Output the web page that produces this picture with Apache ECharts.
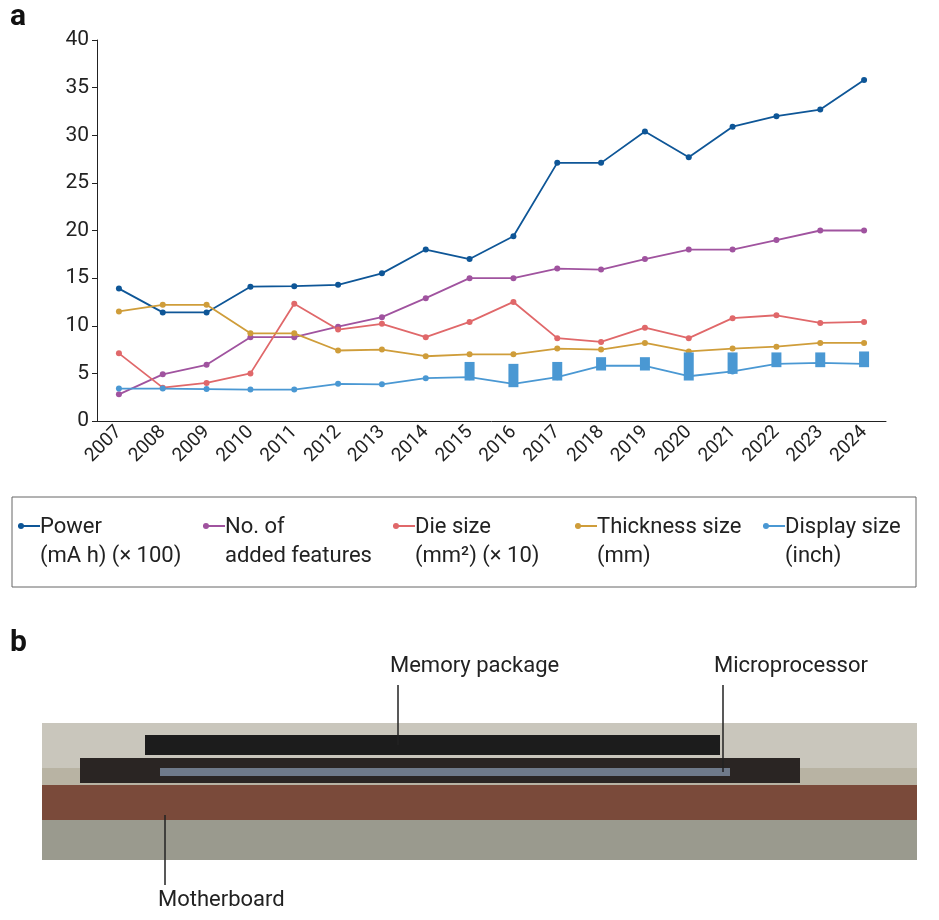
<!DOCTYPE html>
<html>
<head>
<meta charset="utf-8">
<script src="https://cdn.jsdelivr.net/npm/echarts@6/dist/echarts.min.js"></script>
<style>html,body{margin:0;padding:0;background:#fff}#main{width:939px;height:920px}</style>
</head>
<body>
<div id="main"></div>
<script>
var years = ['2007','2008','2009','2010','2011','2012','2013','2014','2015','2016','2017','2018','2019','2020','2021','2022','2023','2024'];
var power = [13.9,11.4,11.4,14.1,14.15,14.3,15.5,18,17,19.4,27.1,27.1,30.4,27.7,30.9,32,32.7,35.8];
var features = [2.8,4.9,5.9,8.8,8.8,9.9,10.9,12.9,15,15,16,15.9,17,18,18,19,20,20];
var dieSize = [7.1,3.5,4.0,5.0,12.3,9.6,10.2,8.8,10.4,12.5,8.7,8.3,9.8,8.7,10.8,11.1,10.3,10.4];
var thickness = [11.5,12.2,12.2,9.2,9.2,7.4,7.5,6.8,7.0,7.0,7.6,7.5,8.2,7.3,7.6,7.8,8.2,8.2];
var display = [3.4,3.4,3.35,3.3,3.3,3.9,3.85,4.5,4.6,3.9,4.6,5.8,5.8,4.7,5.2,6.0,6.1,6.0];
// display size ranges [yearIndex, low, high]
var displayRange = [[8,4.25,6.2],[9,3.55,6.0],[10,4.25,6.2],[11,5.3,6.7],[12,5.3,6.7],[13,4.25,7.2],[14,4.95,7.2],[15,5.65,7.2],[16,5.65,7.2],[17,5.65,7.3]];

var cols = ['#0e5697','#a0539f','#e0686a','#cf9d3a','#4a98d3'];
var names = ['Power\n(mA h) (\u00d7 100)','No. of\nadded features','Die size\n(mm\u00b2) (\u00d7 10)','Thickness size\n(mm)','Display size\n(inch)'];
var legendX = [18, 203, 393, 575, 763];
var font = 'Roboto, "Noto Sans", sans-serif';

function line(data, c) {
  return {type:'line', data:data, symbol:'circle', symbolSize:6,
    lineStyle:{color:c, width:1.8}, itemStyle:{color:c}, z:3};
}

var graphic = [
  {type:'text', left:10, top:2, style:{text:'a', font:'bold 30px ' + font, fill:'#111'}},
  {type:'rect', shape:{x:12, y:497, width:904, height:90}, style:{fill:'none', stroke:'#666', lineWidth:1}},
  {type:'text', left:10, top:628, style:{text:'b', font:'bold 30px ' + font, fill:'#111'}}
];
legendX.forEach(function (x, i) {
  graphic.push({type:'line', shape:{x1:x, y1:526, x2:x+22, y2:526}, style:{stroke:cols[i], lineWidth:2}});
  graphic.push({type:'circle', shape:{cx:x+3, cy:526, r:3}, style:{fill:cols[i]}});
  graphic.push({type:'text', x:x+22, y:513, style:{text:names[i], font:'22px ' + font, fill:'#222', lineHeight:29}});
});
// panel b: schematic cross-section
graphic.push(
  {type:'rect', shape:{x:42, y:723, width:875, height:137}, style:{fill:'#b8b3a3'}},
  {type:'rect', shape:{x:42, y:723, width:875, height:45}, style:{fill:'#c9c6bc'}},
  {type:'rect', shape:{x:145, y:735, width:575, height:20}, style:{fill:'#1c1c1c'}},
  {type:'rect', shape:{x:80, y:758, width:720, height:25}, style:{fill:'#2a2523'}},
  {type:'rect', shape:{x:160, y:768, width:570, height:8}, style:{fill:'#6f7a8a'}},
  {type:'rect', shape:{x:42, y:785, width:875, height:35}, style:{fill:'#7a4a3a'}},
  {type:'rect', shape:{x:42, y:820, width:875, height:40}, style:{fill:'#9a9a8e'}},
  {type:'text', x:390, y:655, style:{text:'Memory package', font:'22px ' + font, fill:'#222'}},
  {type:'line', shape:{x1:398, y1:685, x2:398, y2:745}, style:{stroke:'#222', lineWidth:1.5}},
  {type:'text', x:714, y:655, style:{text:'Microprocessor', font:'22px ' + font, fill:'#222'}},
  {type:'line', shape:{x1:723, y1:685, x2:723, y2:772}, style:{stroke:'#222', lineWidth:1.5}},
  {type:'text', x:158, y:889, style:{text:'Motherboard', font:'22px ' + font, fill:'#222'}},
  {type:'line', shape:{x1:165, y1:815, x2:165, y2:885}, style:{stroke:'#222', lineWidth:1.5}}
);

var chart = echarts.init(document.getElementById('main'));
chart.setOption({
  animation:false,
  textStyle:{fontFamily:font},
  grid:{left:97, right:53, top:40, height:381},
  xAxis:{type:'category', data:years, boundaryGap:true,
    axisLine:{lineStyle:{color:'#222'}}, axisTick:{alignWithLabel:true, lineStyle:{color:'#222'}},
    axisLabel:{rotate:45, color:'#222', fontSize:19, margin:8}},
  yAxis:{type:'value', min:0, max:40, interval:5, splitLine:{show:false},
    axisLine:{show:true, lineStyle:{color:'#222'}}, axisTick:{show:true, lineStyle:{color:'#222'}},
    axisLabel:{color:'#222', fontSize:21}},
  series:[
    line(power, cols[0]), line(features, cols[1]), line(dieSize, cols[2]),
    line(thickness, cols[3]), line(display, cols[4]),
    {type:'custom', data:displayRange, z:4,
      renderItem:function (params, api) {
        var lo = api.coord([api.value(0), api.value(1)]);
        var hi = api.coord([api.value(0), api.value(2)]);
        return {type:'rect', shape:{x:lo[0]-5, y:hi[1], width:10, height:lo[1]-hi[1]}, style:{fill:cols[4]}};
      }}
  ],
  graphic:graphic
});
</script>
</body>
</html>
